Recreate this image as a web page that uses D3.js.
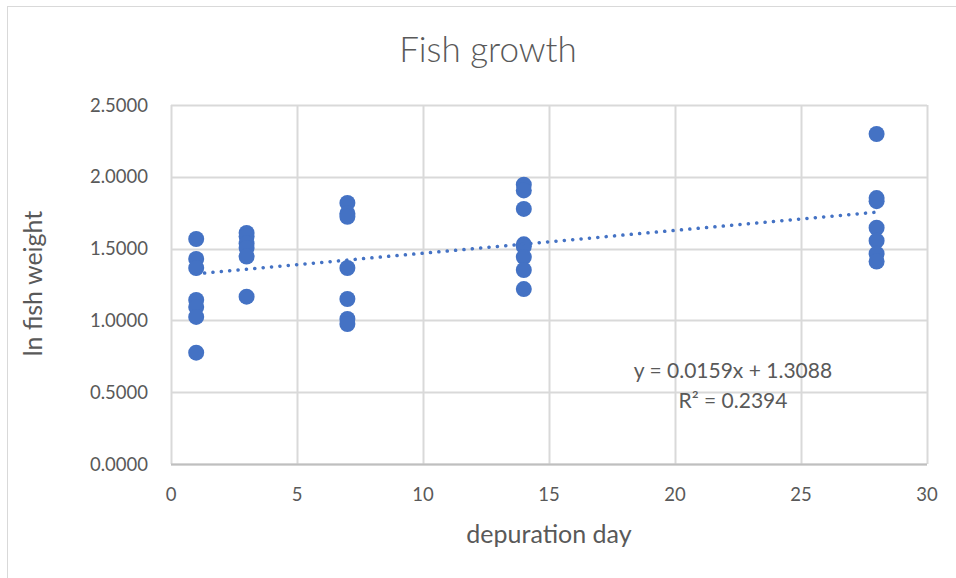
<!DOCTYPE html>
<html>
<head>
<meta charset="utf-8">
<script src="https://cdn.jsdelivr.net/npm/d3@7"></script>
<style>
  body { margin: 0; background: #fff; }
  text { font-family: "Lato", "Open Sans", sans-serif; fill: #595959; }
</style>
</head>
<body>
<div id="chart"></div>
<script>
// depuration day for each fish
var days = [1, 1, 1, 1, 1, 1, 1,
            3, 3, 3, 3, 3, 3,
            7, 7, 7, 7, 7, 7, 7,
            14, 14, 14, 14, 14, 14, 14, 14,
            28, 28, 28, 28, 28, 28, 28];
// ln fish weight
var lnWeight = [1.567, 1.428, 1.365, 1.142, 1.093, 1.024, 0.775,
                1.609, 1.585, 1.535, 1.505, 1.445, 1.165,
                1.818, 1.745, 1.722, 1.365, 1.149, 1.010, 0.975,
                1.945, 1.905, 1.776, 1.530, 1.515, 1.441, 1.351, 1.218,
                2.298, 1.852, 1.830, 1.645, 1.555, 1.465, 1.410];
// linear trendline from the sheet
var trendSlope = 0.0159, trendIntercept = 1.3088;
var xTicks = [0, 5, 10, 15, 20, 25, 30];
var yTicks = [0, 0.5, 1, 1.5, 2, 2.5];

var W = 956, H = 578;
var margin = {top: 105, right: 29, bottom: 114, left: 171},
    width = W - margin.left - margin.right,
    height = H - margin.top - margin.bottom;

var svg = d3.select("#chart").append("svg")
    .attr("width", W)
    .attr("height", H);

// outer chart border
svg.append("rect")
    .attr("x", 7.5).attr("y", 6.5)
    .attr("width", W).attr("height", H)
    .attr("fill", "none")
    .attr("stroke", "#d9d9d9");

var g = svg.append("g")
    .attr("transform", "translate(" + margin.left + "," + margin.top + ")");

var x = d3.scaleLinear().domain([0, 30]).range([0, width]);
var y = d3.scaleLinear().domain([0, 2.5]).range([height, 0]);

// gridlines
g.selectAll(".hgrid").data(yTicks).enter().append("line")
    .attr("x1", 0).attr("x2", width)
    .attr("y1", function(d) { return Math.round(y(d)) + 0.5; })
    .attr("y2", function(d) { return Math.round(y(d)) + 0.5; })
    .attr("stroke", "#d9d9d9").attr("stroke-width", 2);
g.selectAll(".vgrid").data(xTicks).enter().append("line")
    .attr("y1", 0).attr("y2", height)
    .attr("x1", function(d) { return Math.round(x(d)) + 0.5; })
    .attr("x2", function(d) { return Math.round(x(d)) + 0.5; })
    .attr("stroke", "#d9d9d9").attr("stroke-width", 2);

// x axis line
g.append("line")
    .attr("x1", 0).attr("x2", width)
    .attr("y1", height + 0.5).attr("y2", height + 0.5)
    .attr("stroke", "#bfbfbf").attr("stroke-width", 2);

// tick labels
g.selectAll(".ylab").data(yTicks).enter().append("text")
    .attr("x", -23)
    .attr("y", function(d) { return y(d); })
    .attr("dy", "0.36em")
    .attr("text-anchor", "end")
    .style("font-size", "18.5px")
    .text(function(d) { return d3.format(".4f")(d); });

g.selectAll(".xlab").data(xTicks).enter().append("text")
    .attr("x", function(d) { return x(d); })
    .attr("y", height + 37)
    .attr("text-anchor", "middle")
    .style("font-size", "18.5px")
    .text(function(d) { return d; });

// points
g.selectAll("circle").data(days).enter().append("circle")
    .attr("cx", function(d) { return x(d); })
    .attr("cy", function(d, i) { return y(lnWeight[i]); })
    .attr("r", 8)
    .attr("fill", "#4472c4");

// dotted trendline
var x0 = d3.min(days), x1 = d3.max(days);
g.append("line")
    .attr("x1", x(x0)).attr("y1", y(trendSlope * x0 + trendIntercept))
    .attr("x2", x(x1)).attr("y2", y(trendSlope * x1 + trendIntercept))
    .attr("stroke", "#4472c4")
    .attr("stroke-width", 3.5)
    .attr("stroke-linecap", "round")
    .attr("stroke-dasharray", "0.1 8.3");

// trendline label
g.append("text")
    .attr("x", x(22.3)).attr("y", y(0.6))
    .attr("text-anchor", "middle")
    .style("font-size", "21px")
    .text("y = " + trendSlope + "x + " + trendIntercept);
g.append("text")
    .attr("x", x(22.3)).attr("y", y(0.39))
    .attr("text-anchor", "middle")
    .style("font-size", "21px")
    .text("R² = 0.2394");

// title
svg.append("text")
    .attr("x", 488).attr("y", 62)
    .attr("text-anchor", "middle")
    .style("font-size", "35px")
    .style("font-weight", 300)
    .text("Fish growth");

// axis titles
svg.append("text")
    .attr("x", margin.left + width / 2).attr("y", 543)
    .attr("text-anchor", "middle")
    .style("font-size", "25px")
    .text("depuration day");

svg.append("text")
    .attr("transform", "rotate(-90)")
    .attr("x", -(margin.top + height / 2) + 1)
    .attr("y", 42)
    .attr("text-anchor", "middle")
    .style("font-size", "25px")
    .text("ln fish weight");
</script>
</body>
</html>
